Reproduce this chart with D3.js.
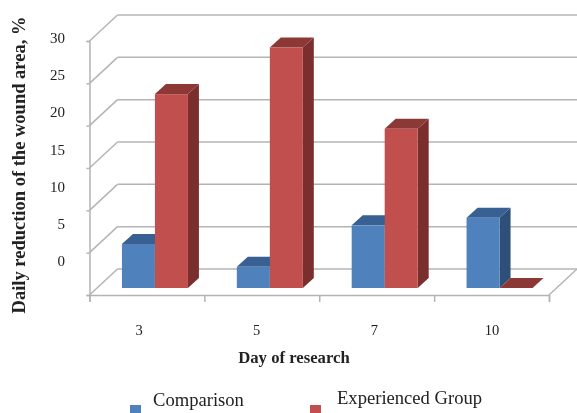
<!DOCTYPE html>
<html lang="en">
<head>
<meta charset="UTF-8">
<title>Daily reduction of the wound area</title>
<script src="https://d3js.org/d3.v7.min.js"></script>
<style>
    html, body { margin: 0; padding: 0; background: #fff; overflow: hidden; }
    text { font-family: "Liberation Serif", serif; fill: #222; }
</style>
</head>
<body>
<div id="chart"></div>
<script>
    // Data
    const days = ["3", "5", "7", "10"];
    const seriesNames = ["Comparison", "Experienced Group"];
    const comparison = [5.2, 2.5, 7.4, 8.3];
    const experienced = [22.9, 28.4, 18.8, 0];
    const yTicks = [0, 5, 10, 15, 20, 25, 30];

    const width = 577, height = 413;
    const plotLeft = 89.5, plotRight = 549, plotBottom = 295, plotTop = 41;
    const wallDx = 28, wallDy = 26;   // front plane to back wall
    const barDx = 11, barDy = 10;     // depth of one bar
    const insetDx = 8, insetDy = 7;   // bars sit a bit behind the front plane
    const barWidth = 33;

    const colors = [
        {front: "#4f81bd", side: "#2f5078", top: "#376092"},
        {front: "#c0504d", side: "#7a2f2e", top: "#8c3836"}
    ];
    const gridColor = "#b4b4b4";

    const svg = d3.select("#chart").append("svg")
        .attr("width", width)
        .attr("height", height)
        .style("display", "block");

    // the reference is a slightly soft scan
    svg.append("defs").append("filter")
        .attr("id", "soft")
        .append("feGaussianBlur")
        .attr("stdDeviation", 0.5);

    const root = svg.append("g").attr("filter", "url(#soft)");

    const x = d3.scaleBand().domain(days).range([plotLeft, plotRight]);
    const xInner = d3.scaleBand().domain(d3.range(2)).range([0, barWidth * 2]);
    const y = d3.scaleLinear().domain([0, 30]).range([plotBottom, plotTop]);
    // tick labels in the picture do not line up with the tick marks
    const yLabel = d3.scaleLinear().domain([0, 30]).range([266, 43]);
    const xLabel = d3.scalePoint().domain(days).range([139, 492]);

    // Back wall lines and the diagonals on the left wall
    const grid = root.append("g")
        .attr("fill", "none")
        .attr("stroke", gridColor)
        .attr("stroke-width", 1.5);

    grid.selectAll(".back")
        .data(yTicks)
        .join("line")
        .attr("class", "back")
        .attr("x1", plotLeft + wallDx)
        .attr("x2", width)
        .attr("y1", d => y(d) - wallDy)
        .attr("y2", d => y(d) - wallDy);

    grid.selectAll(".diag")
        .data(yTicks)
        .join("line")
        .attr("class", "diag")
        .attr("x1", plotLeft)
        .attr("x2", plotLeft + wallDx)
        .attr("y1", d => y(d))
        .attr("y2", d => y(d) - wallDy);

    // right edge of the floor
    grid.append("line")
        .attr("x1", plotRight)
        .attr("y1", plotBottom)
        .attr("x2", plotRight + wallDx)
        .attr("y2", plotBottom - wallDy);

    // Axes
    const yAxis = d3.axisLeft(y).tickValues(yTicks).tickSize(3).tickFormat("");
    const xAxis = d3.axisBottom(d3.scaleLinear().domain([0, 4]).range([plotLeft, plotRight]))
        .ticks(4).tickSize(7).tickFormat("");

    [root.append("g").call(yAxis).attr("transform", `translate(${plotLeft},0)`),
     root.append("g").call(xAxis).attr("transform", `translate(0,${plotBottom})`)]
        .forEach(g => {
            g.selectAll("path, line").attr("stroke", gridColor).attr("stroke-width", 1.5);
        });

    // Bars, blue first so the red one covers its side
    const poly = d3.line();
    const bars = root.append("g");

    days.forEach((day, i) => {
        [comparison[i], experienced[i]].forEach((value, s) => {
            const x0 = x(day) + (x.bandwidth() - barWidth * 2) / 2 + insetDx + xInner(s);
            const x1 = x0 + barWidth;
            const y0 = y(0) - insetDy;
            const y1 = y(value) - insetDy;
            const c = colors[s];

            bars.append("path")
                .attr("fill", c.side)
                .attr("d", poly([[x1, y0], [x1, y1], [x1 + barDx, y1 - barDy], [x1 + barDx, y0 - barDy]]) + "Z");
            bars.append("path")
                .attr("fill", c.top)
                .attr("d", poly([[x0, y1], [x1, y1], [x1 + barDx, y1 - barDy], [x0 + barDx, y1 - barDy]]) + "Z");
            bars.append("rect")
                .attr("x", x0)
                .attr("y", y1)
                .attr("width", barWidth)
                .attr("height", y0 - y1)
                .attr("fill", c.front);
        });
    });

    // Tick labels
    root.append("g").selectAll("text")
        .data(yTicks)
        .join("text")
        .attr("x", 65)
        .attr("y", d => yLabel(d))
        .attr("text-anchor", "end")
        .attr("font-size", 15)
        .text(d => d);

    root.append("g").selectAll("text")
        .data(days)
        .join("text")
        .attr("x", d => xLabel(d))
        .attr("y", 335)
        .attr("font-size", 14.5)
        .attr("text-anchor", "middle")
        .text(d => d);

    // Axis titles
    root.append("text")
        .attr("transform", "translate(25,165) rotate(-90)")
        .attr("text-anchor", "middle")
        .attr("font-size", 18.5)
        .attr("font-weight", "bold")
        .text("Daily reduction of the wound area, %");

    root.append("text")
        .attr("x", 294)
        .attr("y", 363)
        .attr("text-anchor", "middle")
        .attr("font-size", 16.7)
        .attr("font-weight", "bold")
        .text("Day of research");

    // Legend
    const legendX = [130, 310];
    const legendTextX = [153, 337];
    const legendTextY = [406, 404];

    seriesNames.forEach((name, s) => {
        root.append("rect")
            .attr("x", legendX[s])
            .attr("y", 405)
            .attr("width", 11)
            .attr("height", 11)
            .attr("fill", colors[s].front);
        root.append("text")
            .attr("x", legendTextX[s])
            .attr("y", legendTextY[s])
            .attr("font-size", 18.6)
            .text(name);
    });
</script>
</body>
</html>
